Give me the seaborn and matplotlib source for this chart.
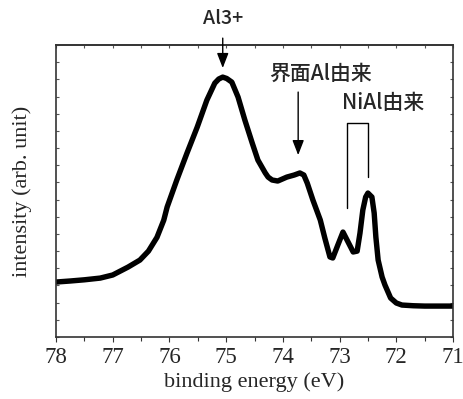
import numpy as np
import pandas as pd
import matplotlib
matplotlib.use("Agg")
import matplotlib.pyplot as plt
from matplotlib.ticker import MultipleLocator
import seaborn as sns

# binding energy (eV) and intensity (arb. unit)
energy = [78.0, 77.75, 77.5, 77.22, 77.0, 76.73, 76.52, 76.37, 76.22, 76.1,
          76.04, 75.87, 75.69, 75.51, 75.34, 75.2, 75.13, 75.06, 74.99, 74.9,
          74.79, 74.67, 74.54, 74.44, 74.31, 74.26, 74.19, 74.09, 73.93, 73.8,
          73.7, 73.63, 73.57, 73.47, 73.34, 73.26, 73.17, 73.12, 73.03, 72.94,
          72.85, 72.76, 72.69, 72.64, 72.59, 72.54, 72.5, 72.43, 72.39, 72.36,
          72.32, 72.25, 72.2, 72.1, 72.0, 71.9, 71.7, 71.5, 71.0]
intensity = [3.20, 3.26, 3.33, 3.43, 3.61, 4.07, 4.48, 5.0, 5.80, 6.80,
             7.57, 9.14, 10.71, 12.22, 13.79, 14.78, 15.02, 15.13, 15.05, 14.84,
             13.97, 12.63, 11.29, 10.30, 9.55, 9.31, 9.14, 9.08, 9.31, 9.43,
             9.55, 9.43, 8.96, 7.97, 6.81, 5.76, 4.66, 4.60, 5.36, 6.11,
             5.53, 4.95, 5.00, 6.05, 7.39, 8.15, 8.38, 8.15, 7.22, 5.82,
             4.48, 3.49, 3.03, 2.27, 1.98, 1.86, 1.82, 1.80, 1.80]

xticks = [78, 77, 76, 75, 74, 73, 72, 71]
xlabel = "binding energy (eV)"
ylabel = "intensity (arb. unit)"
labels = ["Al3+", "界面Al由来", "NiAl由来"]

sns.set_style("ticks")
plt.rcParams["font.family"] = ["Liberation Serif", "DejaVu Serif"]

df = pd.DataFrame({"energy": energy, "intensity": intensity})

fig = plt.figure(figsize=(4.64, 3.99), dpi=100)
ax = fig.add_axes([56 / 464, 62 / 399, 397 / 464, 292 / 399])

sns.lineplot(data=df, x="energy", y="intensity", ax=ax, color="black",
             linewidth=3.9, solid_capstyle="round", solid_joinstyle="round",
             sort=False)

ax.set_xlim(78, 71)
ax.set_ylim(0, 17)
ax.set_xticks(xticks)
ax.set_xticklabels([str(t) for t in xticks])
ax.xaxis.set_minor_locator(MultipleLocator(0.5))
ax.yaxis.set_major_locator(MultipleLocator(1))
ax.set_yticklabels([])
ax.tick_params(axis="x", which="both", direction="out", top=False, bottom=True,
               length=3.6, width=0.8, labelsize=16.5, pad=3.5, color="#333333")
ax.tick_params(axis="x", which="minor", length=3.0)

sec = ax.secondary_xaxis("top")
sec.set_xticks(xticks)
sec.xaxis.set_minor_locator(MultipleLocator(0.5))
sec.tick_params(which="both", direction="in", length=2.5, width=0.8,
                labeltop=False, color="#555555")
sec.spines["top"].set_linewidth(1.2)
sec.spines["top"].set_color("#333333")

ax.tick_params(axis="y", which="both", direction="in", left=True, right=True,
               length=2.5, width=0.8, color="#555555")
for s in ax.spines.values():
    s.set_linewidth(1.2)
    s.set_color("#333333")
ax.set_xlabel(xlabel, fontsize=16, labelpad=3.5)
ax.set_ylabel(ylabel, fontsize=16, labelpad=14)

cjk = ["Noto Sans CJK JP", "DejaVu Sans"]
arrow = dict(arrowstyle="-|>,head_length=0.9,head_width=0.35", color="black",
             lw=1.0, shrinkA=0, shrinkB=0)

# Al3+
ax.annotate("", xy=(75.06, 15.66), xytext=(75.06, 17.4), arrowprops=arrow,
            annotation_clip=False)
ax.text(75.06, 18.57, labels[0], ha="center", va="center", fontsize=14,
        family=cjk, weight="medium", clip_on=False)

# interface Al
ax.annotate("", xy=(73.73, 10.59), xytext=(73.73, 14.26), arrowprops=arrow)
ax.text(73.33, 15.31, labels[1], ha="center", va="center", fontsize=15,
        family=cjk, weight="medium")

# NiAl bracket
ax.plot([72.87, 72.87, 72.5, 72.5], [7.51, 12.46, 12.46, 9.31],
        color="black", lw=1.0)
ax.text(72.23, 13.62, labels[2], ha="center", va="center", fontsize=15,
        family=cjk, weight="medium")

fig.savefig("out.png", dpi=100)
